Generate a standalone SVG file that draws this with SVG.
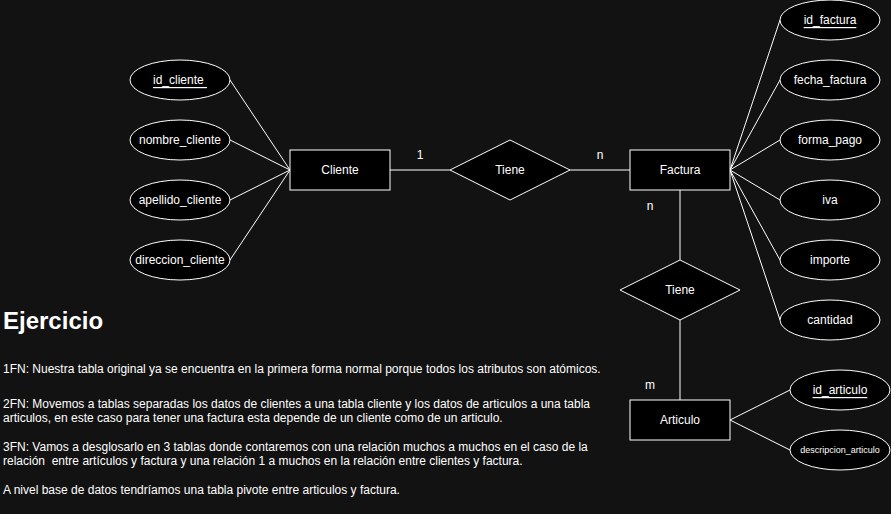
<svg xmlns="http://www.w3.org/2000/svg" width="891" height="514" viewBox="0 0 891 514">
<style>
text{font-family:"Liberation Sans",Arial,Helvetica,sans-serif;fill:#ffffff;font-size:12px}
.c{text-anchor:middle;dominant-baseline:central}
.u{text-decoration:underline}
.shape{fill:#000000;stroke:#ffffff;stroke-width:1}
.edge{stroke:#ffffff;stroke-width:1;fill:none}
.t{white-space:pre}
</style>
<rect x="0" y="0" width="891" height="514" fill="#121212"/>
<g id="connectors">
<line class="edge" x1="230" y1="80" x2="290" y2="170"/>
<line class="edge" x1="230" y1="140" x2="290" y2="170"/>
<line class="edge" x1="230" y1="200" x2="290" y2="170"/>
<line class="edge" x1="230" y1="260" x2="290" y2="170"/>
<line class="edge" x1="390" y1="170" x2="450" y2="170"/>
<line class="edge" x1="570" y1="170" x2="630" y2="170"/>
<line class="edge" x1="730" y1="170" x2="780" y2="20"/>
<line class="edge" x1="730" y1="170" x2="780" y2="80"/>
<line class="edge" x1="730" y1="170" x2="780" y2="140"/>
<line class="edge" x1="730" y1="170" x2="780" y2="200"/>
<line class="edge" x1="730" y1="170" x2="780" y2="260"/>
<line class="edge" x1="730" y1="170" x2="780" y2="320"/>
<line class="edge" x1="680" y1="190" x2="680" y2="260"/>
<line class="edge" x1="680" y1="320" x2="680" y2="400"/>
<line class="edge" x1="730" y1="420" x2="790" y2="390"/>
<line class="edge" x1="730" y1="420" x2="790" y2="450"/>
<text x="420" y="159" text-anchor="middle">1</text>
<text x="600" y="159" text-anchor="middle">n</text>
<text x="650" y="210" text-anchor="middle">n</text>
<text x="650" y="389" text-anchor="middle">m</text>
</g>
<g id="id_cliente"><ellipse class="shape" cx="180" cy="80" rx="50" ry="20"/><text class="c u t" x="180" y="80" xml:space="preserve">id_cliente </text></g>
<g id="nombre_cliente"><ellipse class="shape" cx="180" cy="140" rx="50" ry="20"/><text class="c" x="180" y="140">nombre_cliente</text></g>
<g id="apellido_cliente"><ellipse class="shape" cx="180" cy="200" rx="50" ry="20"/><text class="c" x="180" y="200">apellido_cliente</text></g>
<g id="direccion_cliente"><ellipse class="shape" cx="180" cy="260" rx="50" ry="20"/><text class="c" x="180" y="260">direccion_cliente</text></g>
<g id="cliente"><rect class="shape" x="290" y="150" width="100" height="40"/><text class="c" x="340" y="170">Cliente</text></g>
<g id="tiene1"><polygon class="shape" points="510,140 570,170 510,200 450,170"/><text class="c" x="510" y="170">Tiene</text></g>
<g id="factura"><rect class="shape" x="630" y="150" width="100" height="40"/><text class="c" x="680" y="170">Factura</text></g>
<g id="id_factura"><ellipse class="shape" cx="830" cy="20" rx="50" ry="20"/><text class="c u" x="830" y="20">id_factura</text></g>
<g id="fecha_factura"><ellipse class="shape" cx="830" cy="80" rx="50" ry="20"/><text class="c" x="830" y="80">fecha_factura</text></g>
<g id="forma_pago"><ellipse class="shape" cx="830" cy="140" rx="50" ry="20"/><text class="c" x="830" y="140">forma_pago</text></g>
<g id="iva"><ellipse class="shape" cx="830" cy="200" rx="50" ry="20"/><text class="c" x="830" y="200">iva</text></g>
<g id="importe"><ellipse class="shape" cx="830" cy="260" rx="50" ry="20"/><text class="c" x="830" y="260">importe</text></g>
<g id="cantidad"><ellipse class="shape" cx="830" cy="320" rx="50" ry="20"/><text class="c" x="830" y="320">cantidad</text></g>
<g id="tiene2"><polygon class="shape" points="680,260 740,290 680,320 620,290"/><text class="c" x="680" y="290">Tiene</text></g>
<g id="articulo"><rect class="shape" x="630" y="400" width="100" height="40"/><text class="c" x="680" y="420">Articulo</text></g>
<g id="id_articulo"><ellipse class="shape" cx="840" cy="390" rx="50" ry="20"/><text class="c u" x="840" y="390">id_articulo</text></g>
<g id="descripcion_articulo"><ellipse class="shape" cx="840" cy="450" rx="50" ry="20"/><text class="c" x="840" y="450" style="font-size:9px">descripcion_articulo</text></g>
<g id="notes">
<text x="3" y="329" style="font-size:24px;font-weight:bold">Ejercicio</text>
<text x="3" y="373">1FN: Nuestra tabla original ya se encuentra en la primera forma normal porque todos los atributos son atómicos.</text>
<text x="3" y="408">2FN: Movemos a tablas separadas los datos de clientes a una tabla cliente y los datos de articulos a una tabla</text>
<text x="3" y="422">articulos, en este caso para tener una factura esta depende de un cliente como de un articulo.</text>
<text x="3" y="451">3FN: Vamos a desglosarlo en 3 tablas donde contaremos con una relación muchos a muchos en el caso de la</text>
<text class="t" x="3" y="465" xml:space="preserve">relación  entre artículos y factura y una relación 1 a muchos en la relación entre clientes y factura.</text>
<text x="3" y="494">A nivel base de datos tendríamos una tabla pivote entre articulos y factura.</text>
</g>
</svg>
